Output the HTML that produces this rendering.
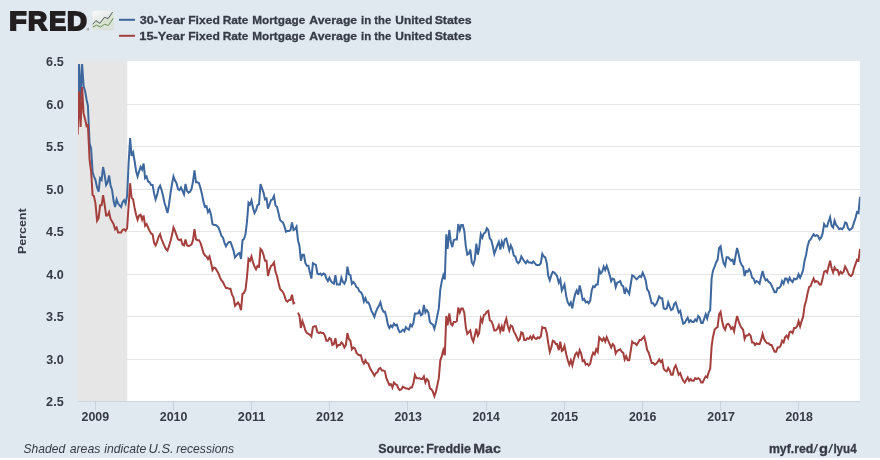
<!DOCTYPE html>
<html><head><meta charset="utf-8"><title>FRED Graph</title>
<style>
html,body{margin:0;padding:0;background:#fff;}
body{width:880px;height:460px;overflow:hidden;}
svg{display:block;}
text{font-family:"Liberation Sans",sans-serif;fill:#363b46;font-weight:bold;white-space:pre;}
</style></head><body>
<svg width="880" height="460" viewBox="0 0 880 460">
<rect x="0" y="0" width="880" height="458" fill="#e1e9f0"/>
<!-- plot area -->
<rect x="78" y="61" width="782" height="340" fill="#ffffff"/>
<rect x="78" y="104" width="782" height="1" fill="#e6e6e6"/>
<rect x="78" y="146" width="782" height="1" fill="#e6e6e6"/>
<rect x="78" y="189" width="782" height="1" fill="#e6e6e6"/>
<rect x="78" y="231" width="782" height="1" fill="#e6e6e6"/>
<rect x="78" y="274" width="782" height="1" fill="#e6e6e6"/>
<rect x="78" y="316" width="782" height="1" fill="#e6e6e6"/>
<rect x="78" y="359" width="782" height="1" fill="#e6e6e6"/>
<rect x="77" y="61" width="50.3" height="340" fill="#e6e6e6"/>
<rect x="78" y="401" width="782" height="1" fill="#ccd4df"/>
<rect x="78" y="60" width="782" height="1" fill="#e4e6e9"/>
<!-- x axis -->
<rect x="95" y="401" width="1" height="9.5" fill="#c8d0dc"/>
<text y="420.80" style="font-size:12.6px;"><tspan x="81.57" textLength="27.59" lengthAdjust="spacingAndGlyphs" style="font-weight:bold;">2009</tspan></text>
<rect x="173" y="401" width="1" height="9.5" fill="#c8d0dc"/>
<text y="420.80" style="font-size:12.6px;"><tspan x="159.73" textLength="27.64" lengthAdjust="spacingAndGlyphs" style="font-weight:bold;">2010</tspan></text>
<rect x="251" y="401" width="1" height="9.5" fill="#c8d0dc"/>
<text y="420.80" style="font-size:12.6px;"><tspan x="237.88" textLength="27.49" lengthAdjust="spacingAndGlyphs" style="font-weight:bold;">2011</tspan></text>
<rect x="329" y="401" width="1" height="9.5" fill="#c8d0dc"/>
<text y="420.80" style="font-size:12.6px;"><tspan x="316.04" textLength="27.63" lengthAdjust="spacingAndGlyphs" style="font-weight:bold;">2012</tspan></text>
<rect x="407" y="401" width="1" height="9.5" fill="#c8d0dc"/>
<text y="420.80" style="font-size:12.6px;"><tspan x="394.41" textLength="27.58" lengthAdjust="spacingAndGlyphs" style="font-weight:bold;">2013</tspan></text>
<rect x="486" y="401" width="1" height="9.5" fill="#c8d0dc"/>
<text y="420.80" style="font-size:12.6px;"><tspan x="472.58" textLength="27.19" lengthAdjust="spacingAndGlyphs" style="font-weight:bold;">2014</tspan></text>
<rect x="564" y="401" width="1" height="9.5" fill="#c8d0dc"/>
<text y="420.80" style="font-size:12.6px;"><tspan x="550.73" textLength="27.47" lengthAdjust="spacingAndGlyphs" style="font-weight:bold;">2015</tspan></text>
<rect x="642" y="401" width="1" height="9.5" fill="#c8d0dc"/>
<text y="420.80" style="font-size:12.6px;"><tspan x="628.88" textLength="27.58" lengthAdjust="spacingAndGlyphs" style="font-weight:bold;">2016</tspan></text>
<rect x="720" y="401" width="1" height="9.5" fill="#c8d0dc"/>
<text y="420.80" style="font-size:12.6px;"><tspan x="707.25" textLength="27.68" lengthAdjust="spacingAndGlyphs" style="font-weight:bold;">2017</tspan></text>
<rect x="798" y="401" width="1" height="9.5" fill="#c8d0dc"/>
<text y="420.80" style="font-size:12.6px;"><tspan x="785.41" textLength="27.51" lengthAdjust="spacingAndGlyphs" style="font-weight:bold;">2018</tspan></text>
<!-- y axis -->
<text y="65.95" style="font-size:12.6px;"><tspan x="46.13" textLength="17.52" lengthAdjust="spacingAndGlyphs" style="font-weight:bold;">6.5</tspan></text>
<text y="108.95" style="font-size:12.6px;"><tspan x="46.30" textLength="17.52" lengthAdjust="spacingAndGlyphs" style="font-weight:bold;">6.0</tspan></text>
<text y="150.95" style="font-size:12.6px;"><tspan x="46.13" textLength="17.52" lengthAdjust="spacingAndGlyphs" style="font-weight:bold;">5.5</tspan></text>
<text y="193.95" style="font-size:12.6px;"><tspan x="46.30" textLength="17.52" lengthAdjust="spacingAndGlyphs" style="font-weight:bold;">5.0</tspan></text>
<text y="235.95" style="font-size:12.6px;"><tspan x="46.13" textLength="17.52" lengthAdjust="spacingAndGlyphs" style="font-weight:bold;">4.5</tspan></text>
<text y="278.95" style="font-size:12.6px;"><tspan x="46.30" textLength="17.52" lengthAdjust="spacingAndGlyphs" style="font-weight:bold;">4.0</tspan></text>
<text y="320.95" style="font-size:12.6px;"><tspan x="46.13" textLength="17.52" lengthAdjust="spacingAndGlyphs" style="font-weight:bold;">3.5</tspan></text>
<text y="363.95" style="font-size:12.6px;"><tspan x="46.30" textLength="17.52" lengthAdjust="spacingAndGlyphs" style="font-weight:bold;">3.0</tspan></text>
<text y="405.95" style="font-size:12.6px;"><tspan x="46.13" textLength="17.52" lengthAdjust="spacingAndGlyphs" style="font-weight:bold;">2.5</tspan></text>
<text transform="translate(25.5,254.03) rotate(-90)" textLength="45.69" lengthAdjust="spacingAndGlyphs" style="font-size:11.4px;font-weight:bold">Percent</text>
<!-- series -->
<clipPath id="cp"><rect x="78" y="61" width="782.3" height="341"/></clipPath>
<g clip-path="url(#cp)" fill="none" stroke-width="2" stroke-linejoin="miter" stroke-miterlimit="4" stroke-linecap="butt">
<path d="M77.6 108.2 L79.1 64.0 L80.6 99.7 L82.1 64.0 L83.6 86.1 L85.1 91.2 L86.6 99.7 L87.9 105.7 L89.6 143.2 L91.1 148.3 L92.6 172.1 L93.9 176.4 L95.4 179.8 L97.1 187.4 L98.6 191.7 L100.1 178.1 L101.6 179.8 L103.1 167.0 L104.6 174.7 L106.1 184.9 L107.6 182.3 L109.1 175.5 L110.6 185.7 L112.1 190.0 L113.6 201.1 L115.1 207.0 L116.6 199.4 L118.1 203.6 L119.6 205.3 L121.1 207.0 L122.6 201.9 L124.1 200.2 L125.6 203.6 L127.1 196.0 L128.6 163.6 L130.1 138.0 L131.6 155.9 L133.1 152.5 L134.6 161.0 L136.1 171.3 L137.6 176.4 L139.1 171.3 L140.6 167.0 L142.1 169.6 L143.6 163.6 L145.1 178.1 L146.6 176.4 L148.1 181.5 L149.6 182.3 L151.1 184.9 L152.6 184.9 L154.1 193.4 L155.6 199.4 L157.1 195.1 L158.6 188.3 L160.1 185.7 L161.6 190.0 L163.1 196.0 L164.5 202.8 L165.8 207.0 L167.5 213.0 L169.0 204.5 L170.5 193.4 L172.0 184.0 L173.5 176.4 L175.0 180.6 L176.5 183.2 L178.0 189.1 L179.5 190.0 L181.0 187.4 L182.5 190.8 L184.0 194.3 L185.5 184.0 L187.0 190.8 L188.5 192.6 L190.0 191.7 L191.5 189.1 L193.0 181.5 L194.5 170.4 L196.0 182.3 L197.5 182.3 L199.0 183.2 L200.5 188.3 L202.0 194.3 L203.5 201.9 L205.0 207.0 L206.5 206.2 L208.0 212.1 L209.5 209.6 L211.0 214.7 L212.5 224.1 L214.0 224.9 L215.5 224.9 L217.0 225.8 L218.5 227.5 L220.0 231.7 L221.5 236.0 L223.0 237.7 L224.5 242.8 L226.0 246.2 L227.5 243.6 L229.0 241.9 L230.5 241.9 L232.0 246.2 L233.5 250.5 L235.0 257.3 L236.5 255.6 L238.0 253.9 L239.5 253.0 L241.0 259.0 L242.5 240.2 L243.8 239.4 L245.5 234.3 L247.0 221.5 L248.5 202.8 L250.0 204.5 L251.5 200.2 L253.0 207.9 L254.5 213.0 L256.0 210.4 L257.5 205.3 L259.0 204.5 L260.5 184.0 L262.0 188.3 L263.5 192.6 L265.0 199.4 L266.5 198.5 L268.0 208.7 L269.5 204.5 L271.0 200.2 L272.5 199.4 L274.0 196.0 L275.5 205.3 L277.0 207.0 L278.5 213.0 L280.0 219.8 L281.5 221.5 L283.0 222.4 L284.5 226.6 L286.0 231.7 L287.5 230.9 L289.0 230.9 L290.5 230.0 L292.0 222.4 L293.5 230.0 L295.0 229.2 L296.5 226.6 L298.0 240.2 L299.5 246.2 L300.9 260.7 L302.4 254.7 L303.9 254.7 L305.4 263.2 L306.9 265.8 L308.4 265.8 L309.9 272.6 L311.4 278.6 L312.9 263.2 L314.4 264.1 L315.9 264.9 L317.4 273.5 L318.9 274.3 L320.4 273.5 L321.7 275.2 L323.4 273.5 L324.9 274.3 L326.4 278.6 L327.9 281.1 L329.4 277.7 L330.9 281.1 L332.4 282.8 L333.9 283.7 L335.4 275.2 L336.9 284.5 L338.4 284.5 L339.9 284.5 L341.4 277.7 L342.9 282.0 L344.4 283.7 L345.9 280.3 L347.4 266.6 L348.9 274.3 L350.4 275.2 L351.9 283.7 L353.4 282.0 L354.9 283.7 L356.4 287.1 L357.9 287.9 L359.4 291.3 L360.9 292.2 L362.4 294.7 L363.9 301.6 L365.4 298.2 L366.9 302.4 L368.4 302.4 L369.9 305.8 L371.4 310.9 L372.9 313.5 L374.4 316.9 L375.9 311.8 L377.4 308.4 L378.9 305.8 L380.4 302.4 L381.9 308.4 L383.4 311.8 L384.9 311.8 L386.4 316.9 L387.9 324.6 L389.4 328.0 L390.9 325.4 L392.4 327.1 L393.9 323.7 L395.4 325.4 L396.9 324.6 L398.4 329.7 L399.7 332.2 L401.4 331.4 L402.9 329.7 L404.4 331.4 L405.9 327.1 L407.4 328.8 L408.9 329.7 L410.4 324.6 L411.9 326.3 L413.4 322.9 L414.9 313.5 L416.4 313.5 L417.9 313.5 L419.4 310.9 L420.9 315.2 L422.4 314.3 L423.9 305.0 L425.4 312.6 L426.9 310.1 L428.4 312.6 L429.9 322.0 L431.4 323.7 L432.9 324.6 L434.4 328.8 L435.9 322.9 L437.4 315.2 L438.8 308.4 L440.3 289.6 L441.8 281.1 L443.3 275.2 L444.8 279.4 L446.3 234.3 L447.6 248.8 L449.3 230.0 L450.8 241.9 L452.3 247.1 L453.8 240.2 L455.3 239.4 L456.8 239.4 L458.3 224.1 L459.8 230.0 L461.3 224.9 L462.8 224.9 L464.3 230.9 L465.8 246.2 L467.3 254.7 L468.8 253.9 L470.3 249.6 L471.8 262.4 L473.3 264.9 L474.8 259.8 L476.3 243.6 L477.8 254.7 L479.1 248.8 L480.8 234.3 L482.3 237.7 L483.8 233.4 L485.3 232.6 L486.8 228.3 L488.3 230.0 L489.8 238.5 L491.3 240.2 L492.8 246.2 L494.3 253.9 L495.8 249.6 L497.3 245.4 L498.8 241.9 L500.3 249.6 L501.8 241.9 L503.3 246.2 L504.8 239.4 L506.3 238.5 L507.8 244.5 L509.3 250.5 L510.8 245.4 L512.3 248.8 L513.8 255.6 L515.3 256.4 L516.8 261.5 L518.3 263.2 L519.8 261.5 L521.3 256.4 L522.8 259.0 L524.3 261.5 L525.8 263.2 L527.3 260.7 L528.8 262.4 L530.3 262.4 L531.8 263.2 L533.3 261.5 L534.8 263.2 L536.3 264.9 L537.8 264.9 L539.3 264.9 L540.8 263.2 L542.3 253.9 L543.8 256.4 L545.3 257.3 L546.8 263.2 L548.3 276.0 L549.8 280.3 L551.3 275.2 L552.8 271.8 L554.3 272.6 L555.8 274.3 L557.0 276.0 L558.8 282.8 L560.3 279.4 L561.8 290.5 L563.0 287.9 L564.5 284.5 L566.3 296.5 L567.8 302.4 L569.3 305.0 L570.8 302.4 L572.3 308.4 L573.8 299.9 L575.2 293.9 L576.7 290.5 L578.2 294.7 L579.7 285.4 L581.2 292.2 L582.7 299.9 L584.2 299.0 L585.7 302.4 L587.2 301.6 L588.7 303.3 L590.2 300.7 L591.7 290.5 L593.2 286.2 L594.7 287.1 L596.2 284.5 L597.7 284.5 L599.2 270.0 L600.7 273.5 L602.2 271.8 L603.7 266.6 L605.2 270.0 L606.7 265.8 L608.2 270.0 L609.7 275.2 L611.2 281.1 L612.7 278.6 L614.2 279.4 L615.7 287.1 L617.2 282.8 L618.7 282.0 L620.2 281.1 L621.7 285.4 L623.2 286.2 L624.7 293.9 L626.2 288.8 L627.7 291.3 L629.2 293.9 L630.7 284.5 L632.2 275.2 L633.7 276.0 L635.0 277.7 L636.7 279.4 L638.2 277.7 L639.7 276.0 L641.2 276.9 L642.7 272.6 L644.2 276.0 L645.7 280.3 L647.2 289.6 L648.7 291.3 L650.2 297.3 L651.7 303.3 L653.2 303.3 L654.7 305.8 L656.2 304.1 L657.7 300.7 L659.2 296.5 L660.7 298.2 L662.2 298.2 L663.7 308.4 L665.2 309.2 L666.7 308.4 L668.2 302.4 L669.7 306.7 L671.2 310.1 L672.7 309.2 L674.2 304.1 L675.7 302.4 L677.2 307.5 L678.7 312.6 L680.2 310.9 L681.7 317.7 L683.2 323.7 L684.7 322.9 L686.2 320.3 L687.7 317.7 L689.2 322.0 L690.7 320.3 L692.2 322.0 L693.7 322.0 L695.2 319.4 L696.7 321.1 L698.2 316.0 L699.7 317.7 L701.2 322.9 L702.7 322.9 L704.2 318.6 L705.7 314.3 L707.2 318.6 L708.7 312.6 L710.2 310.1 L711.6 278.6 L712.9 270.9 L714.6 266.6 L716.1 262.4 L717.6 259.8 L719.1 247.9 L720.6 246.2 L722.1 256.4 L723.6 263.2 L725.1 265.8 L726.6 257.3 L728.1 257.3 L729.6 259.0 L731.1 260.7 L732.6 259.8 L734.1 264.9 L735.6 255.6 L737.1 247.9 L738.6 253.9 L740.1 261.5 L741.6 264.9 L743.1 266.6 L744.6 276.0 L746.1 270.9 L747.6 271.8 L749.1 269.2 L750.6 271.8 L752.1 277.7 L753.6 278.6 L755.1 282.8 L756.6 281.1 L758.1 282.0 L759.6 283.7 L761.1 276.9 L762.6 270.9 L764.1 276.9 L765.6 280.3 L767.1 279.4 L768.6 282.0 L770.1 282.8 L771.6 285.4 L773.1 288.8 L774.6 292.2 L776.1 292.2 L777.6 287.9 L779.1 287.9 L780.6 286.2 L782.1 281.1 L783.6 283.7 L785.1 278.6 L786.6 278.6 L788.1 282.0 L789.6 277.7 L790.9 280.3 L792.6 282.0 L794.1 278.6 L795.6 279.4 L797.1 278.6 L798.6 274.3 L800.1 277.7 L801.6 274.3 L803.1 270.0 L804.6 260.7 L806.1 254.7 L807.6 246.2 L809.1 241.1 L810.6 239.4 L812.1 236.8 L813.6 234.3 L815.1 236.0 L816.6 235.1 L818.1 236.0 L819.6 239.4 L821.1 237.7 L822.6 233.4 L824.1 224.1 L825.6 226.6 L827.1 226.6 L828.6 221.5 L830.1 217.2 L831.6 225.8 L833.1 227.5 L834.6 220.7 L836.1 224.9 L837.6 226.6 L839.1 229.2 L840.6 228.3 L842.1 229.2 L843.6 227.5 L845.1 222.4 L846.6 223.2 L848.1 228.3 L849.5 230.0 L851.0 229.2 L852.5 227.5 L854.0 222.4 L855.5 218.1 L857.0 212.1 L858.5 213.0 L860.0 196.8" stroke="#3d679d"/>
<path d="M77.6 134.6 L79.1 91.2 L80.6 127.0 L82.1 87.0 L83.6 113.4 L85.1 119.3 L86.6 126.1 L87.9 125.3 L89.6 160.2 L91.1 171.3 L92.6 195.1 L93.9 196.0 L95.4 202.8 L97.1 220.7 L98.6 218.1 L100.1 205.3 L101.6 205.3 L103.1 195.1 L104.6 204.5 L106.1 215.5 L107.6 215.5 L109.1 212.1 L110.6 219.0 L112.1 221.5 L113.6 224.1 L115.1 229.2 L116.6 227.5 L118.1 232.6 L119.6 232.6 L121.1 232.6 L122.6 230.0 L124.1 229.2 L125.6 230.9 L127.1 228.3 L128.6 206.2 L130.1 183.2 L131.6 197.7 L133.1 199.4 L134.6 207.9 L136.1 214.7 L137.6 219.8 L139.1 215.5 L140.6 214.7 L142.1 219.8 L143.6 215.5 L145.1 225.8 L146.6 224.1 L148.1 227.5 L149.6 230.9 L151.1 233.4 L152.6 234.3 L154.1 242.8 L155.6 245.4 L157.1 241.9 L158.6 236.8 L160.1 234.3 L161.6 239.4 L163.1 242.8 L164.5 246.2 L165.8 248.8 L167.5 250.5 L169.0 246.2 L170.5 241.1 L172.0 235.1 L173.5 227.5 L175.0 230.9 L176.5 235.1 L178.0 239.4 L179.5 240.2 L181.0 239.4 L182.5 244.5 L184.0 245.4 L185.5 239.4 L187.0 245.4 L188.5 246.2 L190.0 245.4 L191.5 244.5 L193.0 240.2 L194.5 229.2 L196.0 239.4 L197.5 240.2 L199.0 240.2 L200.5 242.8 L202.0 247.9 L203.5 253.0 L205.0 255.6 L206.5 256.4 L208.0 259.0 L209.5 256.4 L211.0 262.4 L212.5 270.0 L214.0 267.5 L215.5 268.3 L217.0 270.9 L218.5 273.5 L220.0 277.7 L221.5 280.3 L223.0 282.0 L224.5 285.4 L226.0 287.9 L227.5 287.9 L229.0 288.8 L230.5 288.8 L232.0 294.7 L233.5 297.3 L235.0 305.8 L236.5 304.1 L238.0 302.4 L239.5 305.0 L241.0 310.1 L242.5 293.9 L243.8 293.0 L245.5 289.6 L247.0 276.9 L248.5 259.0 L250.0 260.7 L251.5 256.4 L253.0 262.4 L254.5 266.6 L256.0 269.2 L257.5 265.8 L259.0 266.6 L260.5 248.8 L262.0 250.5 L263.5 254.7 L265.0 260.7 L266.5 260.7 L268.0 276.0 L269.5 270.0 L271.0 265.8 L272.5 264.9 L274.0 262.4 L275.5 271.8 L277.0 276.0 L278.5 282.8 L280.0 288.8 L281.5 290.5 L283.0 292.2 L284.5 295.6 L286.0 300.7 L287.5 301.6 L289.0 299.9 L290.5 299.9 L292.0 294.7 L293.5 303.3 L295.0 302.4 M298.0 312.6 L299.5 316.0 L300.9 328.0 L302.4 321.1 L303.9 325.4 L305.4 330.5 L306.9 333.1 L308.4 333.9 L309.9 334.8 L311.4 336.5 L312.9 327.1 L314.4 326.3 L315.9 326.3 L317.4 332.2 L318.9 333.1 L320.4 332.2 L321.7 333.1 L323.4 333.1 L324.9 335.6 L326.4 340.7 L327.9 340.7 L329.4 338.2 L330.9 339.0 L332.4 345.0 L333.9 344.1 L335.4 338.2 L336.9 346.7 L338.4 345.0 L339.9 345.0 L341.4 342.4 L342.9 344.1 L344.4 347.5 L345.9 345.0 L347.4 333.1 L348.9 339.0 L350.4 340.7 L351.9 349.3 L353.4 347.5 L354.9 348.4 L356.4 352.7 L357.9 354.4 L359.4 355.2 L360.9 355.2 L362.4 361.2 L363.9 363.7 L365.4 360.3 L366.9 362.9 L368.4 363.7 L369.9 368.0 L371.4 370.5 L372.9 373.1 L374.4 375.7 L375.9 373.1 L377.4 372.2 L378.9 368.8 L380.4 368.0 L381.9 370.5 L383.4 370.5 L384.9 371.4 L386.4 378.2 L387.9 381.6 L389.4 385.0 L390.9 384.2 L392.4 387.6 L393.9 382.5 L395.4 384.2 L396.9 385.0 L398.4 388.4 L399.7 390.1 L401.4 389.3 L402.9 386.7 L404.4 387.6 L405.9 388.4 L407.4 388.4 L408.9 389.3 L410.4 387.6 L411.9 387.6 L413.4 383.3 L414.9 374.8 L416.4 378.2 L417.9 378.2 L419.4 378.2 L420.9 379.1 L422.4 379.1 L423.9 376.5 L425.4 382.5 L426.9 379.1 L428.4 380.8 L429.9 388.4 L431.4 389.3 L432.9 391.8 L434.4 396.1 L435.9 391.8 L437.4 385.0 L438.8 378.2 L440.3 360.3 L441.8 356.1 L443.3 350.1 L444.8 355.2 L446.3 316.0 L447.6 325.4 L449.3 313.5 L450.8 323.7 L452.3 325.4 L453.8 322.0 L455.3 322.0 L456.8 321.1 L458.3 307.5 L459.8 312.6 L461.3 308.4 L462.8 308.4 L464.3 312.6 L465.8 327.1 L467.3 333.9 L468.8 332.2 L470.3 330.5 L471.8 338.2 L473.3 341.6 L474.8 335.6 L476.3 328.8 L477.8 335.6 L479.1 333.1 L480.8 318.6 L482.3 322.0 L483.8 315.2 L485.3 314.3 L486.8 311.8 L488.3 310.9 L489.8 320.3 L491.3 321.1 L492.8 324.6 L494.3 330.5 L495.8 330.5 L497.3 328.8 L498.8 325.4 L500.3 331.4 L501.8 326.3 L503.3 331.4 L504.8 322.9 L506.3 318.6 L507.8 326.3 L509.3 330.5 L510.8 325.4 L512.3 326.3 L513.8 331.4 L515.3 333.9 L516.8 337.3 L518.3 340.7 L519.8 339.0 L521.3 332.2 L522.8 333.1 L524.3 339.9 L525.8 339.9 L527.3 338.2 L528.8 339.0 L530.3 336.5 L531.8 339.0 L533.3 335.6 L534.8 338.2 L536.3 339.0 L537.8 337.3 L539.3 338.2 L540.8 336.5 L542.3 327.1 L543.8 328.0 L545.3 328.0 L546.8 333.1 L548.3 343.3 L549.8 351.8 L551.3 347.5 L552.8 340.7 L554.3 341.6 L555.8 344.1 L557.0 344.1 L558.8 350.1 L560.3 341.6 L561.8 351.0 L563.0 350.1 L564.5 345.8 L566.3 354.4 L567.8 360.3 L569.3 364.6 L570.8 360.3 L572.3 365.4 L573.8 359.5 L575.2 354.4 L576.7 352.7 L578.2 356.1 L579.7 350.1 L581.2 353.5 L582.7 361.2 L584.2 360.3 L585.7 364.6 L587.2 363.7 L588.7 365.4 L590.2 363.7 L591.7 356.9 L593.2 352.7 L594.7 354.4 L596.2 349.3 L597.7 351.8 L599.2 337.3 L600.7 339.0 L602.2 340.7 L603.7 338.2 L605.2 341.6 L606.7 337.3 L608.2 340.7 L609.7 344.1 L611.2 347.5 L612.7 344.1 L614.2 345.8 L615.7 353.5 L617.2 351.0 L618.7 350.1 L620.2 349.3 L621.7 351.8 L623.2 352.7 L624.7 359.5 L626.2 356.1 L627.7 360.3 L629.2 360.3 L630.7 351.0 L632.2 341.6 L633.7 343.3 L635.0 343.3 L636.7 345.0 L638.2 342.4 L639.7 339.9 L641.2 339.9 L642.7 338.2 L644.2 336.5 L645.7 342.4 L647.2 350.1 L648.7 352.7 L650.2 357.8 L651.7 362.9 L653.2 362.9 L654.7 364.6 L656.2 363.7 L657.7 362.0 L659.2 359.5 L660.7 362.0 L662.2 360.3 L663.7 368.8 L665.2 370.5 L666.7 371.4 L668.2 368.0 L669.7 370.5 L671.2 374.8 L672.7 374.8 L674.2 368.0 L675.7 365.4 L677.2 369.7 L678.7 374.8 L680.2 373.1 L681.7 377.4 L683.2 380.8 L684.7 382.5 L686.2 379.9 L687.7 377.4 L689.2 380.8 L690.7 379.1 L692.2 380.8 L693.7 380.8 L695.2 378.2 L696.7 379.1 L698.2 378.2 L699.7 379.1 L701.2 382.5 L702.7 382.5 L704.2 379.1 L705.7 376.5 L707.2 377.4 L708.7 372.2 L710.2 368.8 L711.6 346.7 L712.9 337.3 L714.6 329.7 L716.1 328.0 L717.6 327.1 L719.1 314.3 L720.6 311.8 L722.1 321.1 L723.6 327.1 L725.1 329.7 L726.6 324.6 L728.1 323.7 L729.6 325.4 L731.1 328.8 L732.6 327.1 L734.1 331.4 L735.6 322.9 L737.1 316.0 L738.6 321.1 L740.1 325.4 L741.6 328.0 L743.1 329.7 L744.6 339.0 L746.1 335.6 L747.6 335.6 L749.1 333.9 L750.6 335.6 L752.1 342.4 L753.6 342.4 L755.1 345.0 L756.6 343.3 L758.1 344.1 L759.6 344.1 L761.1 339.9 L762.6 333.9 L764.1 339.0 L765.6 341.6 L767.1 343.3 L768.6 343.3 L770.1 345.0 L771.6 345.0 L773.1 348.4 L774.6 351.8 L776.1 351.8 L777.6 347.5 L779.1 347.5 L780.6 345.8 L782.1 340.7 L783.6 342.4 L785.1 337.3 L786.6 335.6 L788.1 338.2 L789.6 332.2 L790.9 331.4 L792.6 333.1 L794.1 328.0 L795.6 328.0 L797.1 326.3 L798.6 321.1 L800.1 326.3 L801.6 321.1 L803.1 316.9 L804.6 305.8 L806.1 300.7 L807.6 293.0 L809.1 287.1 L810.6 286.2 L812.1 282.0 L813.6 278.6 L815.1 282.0 L816.6 281.1 L818.1 282.0 L819.6 284.5 L821.1 284.5 L822.6 278.6 L824.1 271.8 L825.6 270.9 L827.1 272.6 L828.6 266.6 L830.1 260.7 L831.6 268.3 L833.1 272.6 L834.6 267.5 L836.1 270.0 L837.6 270.0 L839.1 274.3 L840.6 271.8 L842.1 273.5 L843.6 271.8 L845.1 266.6 L846.6 269.2 L848.1 272.6 L849.5 275.2 L851.0 276.0 L852.5 274.3 L854.0 268.3 L855.5 264.1 L857.0 259.8 L858.5 260.7 L860.0 248.8" stroke="#a33f3c"/>
</g>
<!-- logo -->
<text y="29.55" style="font-size:25.44px;font-weight:bold;fill:#231f20;stroke:#231f20;stroke-width:1.9px;stroke-linejoin:miter"><tspan x="9.25" textLength="17.34" lengthAdjust="spacingAndGlyphs">F</tspan><tspan x="27.98" textLength="19.11" lengthAdjust="spacingAndGlyphs">R</tspan><tspan x="49.27" textLength="16.76" lengthAdjust="spacingAndGlyphs">E</tspan><tspan x="67.11" textLength="19.90" lengthAdjust="spacingAndGlyphs">D</tspan></text>
<text x="86.6" y="31.3" style="font-size:3.6px;fill:#444">®</text>
<defs><linearGradient id="ig" x1="0" y1="0" x2="0.6" y2="1"><stop offset="0" stop-color="#f9faf9"/><stop offset="1" stop-color="#d6dcd6"/></linearGradient></defs>
<rect x="92.3" y="10.8" width="21.3" height="19.4" rx="1.5" fill="url(#ig)"/>
<path d="M92.6 24.3 L95.9 20.6 L99.9 23.3 L104.4 17.3 L108.1 18.5 L112.6 12.1 L113.3 18.2 L108.4 25.5 L104.7 24.3 L100.5 27 L96.5 25.2 L92.6 27Z" fill="#d9e3d0"/>
<path d="M92.6 27 L96.5 25.2 L100.5 27 L104.7 24.3 L108.4 25.5 L113.3 18.2 L113.3 28.6 L92.6 28.6Z" fill="#dce3da"/>
<path d="M92.6 24.3 L95.9 20.6 L99.9 23.3 L104.4 17.3 L108.1 18.5 L112.6 12.1" fill="none" stroke="#4f5963" stroke-width="1"/>
<path d="M92.6 27 L96.5 25.2 L100.5 27 L104.7 24.3 L108.4 25.5 L113.3 18.2" fill="none" stroke="#6f8f58" stroke-width="1"/>
<!-- legend -->
<line x1="119" x2="135" y1="19.8" y2="19.8" stroke="#3f6499" stroke-width="2"/>
<line x1="119" x2="135" y1="35.8" y2="35.8" stroke="#a23f3e" stroke-width="2"/>
<text y="23.80" style="font-size:11.8px;stroke:#363b46;stroke-width:0.3px;"><tspan x="139.77" textLength="45.12" lengthAdjust="spacingAndGlyphs" style="font-weight:bold;">30-Year</tspan> <tspan x="188.19" textLength="31.67" lengthAdjust="spacingAndGlyphs" style="font-weight:bold;">Fixed</tspan> <tspan x="222.71" textLength="25.70" lengthAdjust="spacingAndGlyphs" style="font-weight:bold;">Rate</tspan> <tspan x="252.21" textLength="52.99" lengthAdjust="spacingAndGlyphs" style="font-weight:bold;">Mortgage</tspan> <tspan x="309.35" textLength="47.82" lengthAdjust="spacingAndGlyphs" style="font-weight:bold;">Average</tspan> <tspan x="361.10" textLength="10.16" lengthAdjust="spacingAndGlyphs" style="font-weight:bold;">in</tspan> <tspan x="374.26" textLength="16.92" lengthAdjust="spacingAndGlyphs" style="font-weight:bold;">the</tspan> <tspan x="395.38" textLength="37.10" lengthAdjust="spacingAndGlyphs" style="font-weight:bold;">United</tspan> <tspan x="434.65" textLength="36.96" lengthAdjust="spacingAndGlyphs" style="font-weight:bold;">States</tspan></text>
<text y="39.80" style="font-size:11.8px;stroke:#363b46;stroke-width:0.3px;"><tspan x="139.25" textLength="45.64" lengthAdjust="spacingAndGlyphs" style="font-weight:bold;">15-Year</tspan> <tspan x="188.19" textLength="31.67" lengthAdjust="spacingAndGlyphs" style="font-weight:bold;">Fixed</tspan> <tspan x="222.71" textLength="25.70" lengthAdjust="spacingAndGlyphs" style="font-weight:bold;">Rate</tspan> <tspan x="252.21" textLength="52.99" lengthAdjust="spacingAndGlyphs" style="font-weight:bold;">Mortgage</tspan> <tspan x="309.35" textLength="47.82" lengthAdjust="spacingAndGlyphs" style="font-weight:bold;">Average</tspan> <tspan x="361.10" textLength="10.16" lengthAdjust="spacingAndGlyphs" style="font-weight:bold;">in</tspan> <tspan x="374.26" textLength="16.92" lengthAdjust="spacingAndGlyphs" style="font-weight:bold;">the</tspan> <tspan x="395.38" textLength="37.10" lengthAdjust="spacingAndGlyphs" style="font-weight:bold;">United</tspan> <tspan x="434.65" textLength="36.96" lengthAdjust="spacingAndGlyphs" style="font-weight:bold;">States</tspan></text>
<!-- footer -->
<text y="453.10" style="font-size:12.1px;"><tspan x="23.56" textLength="41.62" lengthAdjust="spacingAndGlyphs" style="font-style:italic;font-weight:normal;">Shaded</tspan> <tspan x="69.73" textLength="30.63" lengthAdjust="spacingAndGlyphs" style="font-style:italic;font-weight:normal;">areas</tspan> <tspan x="104.20" textLength="42.05" lengthAdjust="spacingAndGlyphs" style="font-style:italic;font-weight:normal;">indicate</tspan> <tspan x="148.54" textLength="25.04" lengthAdjust="spacingAndGlyphs" style="font-style:italic;font-weight:normal;">U.S.</tspan> <tspan x="176.30" textLength="57.85" lengthAdjust="spacingAndGlyphs" style="font-style:italic;font-weight:normal;">recessions</tspan></text>
<text y="453.00" style="font-size:12.3px;stroke:#363b46;stroke-width:0.3px;"><tspan x="378.34" textLength="46.15" lengthAdjust="spacingAndGlyphs" style="font-weight:bold;">Source:</tspan> <tspan x="426.17" textLength="44.75" lengthAdjust="spacingAndGlyphs" style="font-weight:bold;">Freddie</tspan> <tspan x="473.25" textLength="27.56" lengthAdjust="spacingAndGlyphs" style="font-weight:bold;">Mac</tspan></text>
<text y="452.90" style="font-size:12.3px;"><tspan x="768.89" textLength="44.52" lengthAdjust="spacingAndGlyphs" style="font-weight:bold;stroke:#363b46;stroke-width:0.3px;">myf.red</tspan><tspan x="813.10" textLength="5.20" lengthAdjust="spacingAndGlyphs" style="font-weight:normal;stroke:none;">/</tspan><tspan x="819.10" textLength="8.99" lengthAdjust="spacingAndGlyphs" style="font-weight:bold;stroke:#363b46;stroke-width:0.3px;">g</tspan><tspan x="827.90" textLength="5.20" lengthAdjust="spacingAndGlyphs" style="font-weight:normal;stroke:none;">/</tspan><tspan x="833.39" textLength="23.27" lengthAdjust="spacingAndGlyphs" style="font-weight:bold;stroke:#363b46;stroke-width:0.3px;">lyu4</tspan></text>
</svg>
</body></html>
